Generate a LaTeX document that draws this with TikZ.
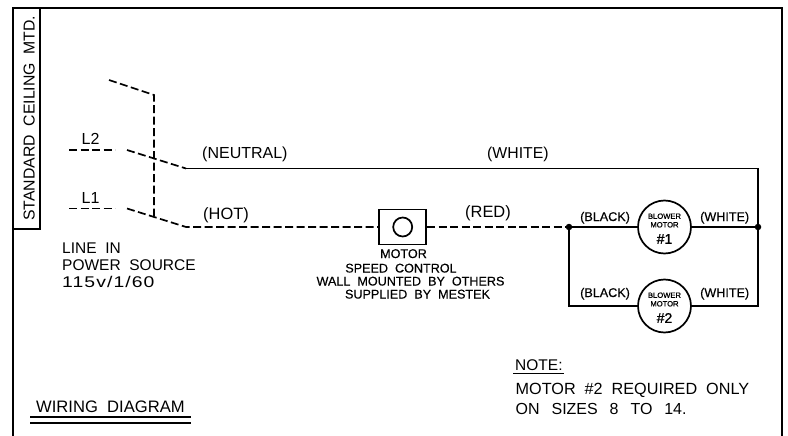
\documentclass[tikz,border=0pt]{standalone}
\usepackage{fontspec}
\setmainfont{Liberation Sans}
\newfontfamily\semib[FakeBold=1.1]{Liberation Sans}
\newfontfamily\semia[FakeBold=0.25]{Liberation Sans}
\newfontfamily\wide[FakeStretch=1.25,LetterSpace=7]{Liberation Sans}
\usetikzlibrary{calc}
\tikzset{
  wire/.style={line width=1.7pt,line join=miter},
  dwire/.style={line width=1.7pt,dash pattern=on 8pt off 3.5pt},
  lab/.style={inner sep=0pt,anchor=base west,font=\fontsize{16}{16}\selectfont},
  blab/.style={inner sep=0pt,anchor=base west,font=\semia\fontsize{12.6}{12.6}\selectfont},
  motor/.style={circle,draw,line width=1.7pt,minimum size=53pt,inner sep=0pt,fill=white},
  mtext/.style={inner sep=0pt,font=\semib\fontsize{7.6}{8.6}\selectfont,align=center},
  mnum/.style={inner sep=0pt,font=\semib\fontsize{14}{14}\selectfont},
  dotn/.style={circle,fill=black,minimum size=6.5pt,inner sep=0pt},
  ctext/.style={inner sep=0pt,font=\semia\fontsize{12.6}{12.6}\selectfont,anchor=base}
}
\begin{document}
\begin{tikzpicture}[x=1pt,y=-1pt]
\useasboundingbox (0,0) rectangle (788,436);
\fill[white] (0,0) rectangle (788,436);
% frame
\coordinate (fbl) at (13,436);
\coordinate (ftl) at (13,8);
\coordinate (ftr) at (782,8);
\coordinate (fbr) at (782,436);
\draw[line width=1.9pt] (fbl) -- (ftl) -- (ftr) -- (fbr);
\coordinate (tb1) at (40,8);
\coordinate (tb2) at (40,229);
\coordinate (tb3) at (13,229);
\draw[line width=1.7pt] (tb1) -- (tb2) -- (tb3);
\node[rotate=90,inner sep=0pt,anchor=base west,font=\fontsize{15.8}{15.8}\selectfont] (side) at (34.5,221) {STANDARD\ \ CEILING\ \ MTD.};
% coordinates
\coordinate (l2a) at (69,150);
\coordinate (l2b) at (115,150);
\coordinate (l2c) at (127,150);
\coordinate (l2d) at (186,168.5);
\coordinate (l1a) at (69,208.5);
\coordinate (l1b) at (115,208.5);
\coordinate (l1c) at (127,208.5);
\coordinate (l1d) at (186,227);
\coordinate (sa) at (109,80);
\coordinate (sb) at (154,95);
\coordinate (sc) at (154,216);
\coordinate (rt) at (758,168.5);
\node[draw,line width=1.7pt,minimum width=47pt,minimum height=35pt,inner sep=0pt] (ctl) at (402.7,227) {};
\node[circle,draw,line width=1.7pt,minimum size=19pt,inner sep=0pt] (knob) at (402.7,227) {};
\node[dotn] (jl) at (569,227) {};
\node[dotn] (jr) at (758,227) {};
\coordinate (bl) at (569,306);
\coordinate (br) at (758,306);
\node[motor] (m1) at (664.5,227) {};
\node[motor] (m2) at (664.5,306) {};
% wires
\draw[dwire] (l2a) -- (l2b);
\draw[dwire] (l1a) -- (l1b);
\draw[dwire] (l2c) -- (l2d);
\draw[dwire] (l1c) -- (l1d) -- (ctl.west);
\draw[dwire] (ctl.east) -- (jl);
\draw[dwire] (sa) -- (sb) -- (sc);
\draw[wire] (l2d) -- (rt) -- (jr);
\draw[wire] (jl) -- (m1);
\draw[wire] (m1) -- (jr);
\draw[wire] (jl) -- (bl) -- (m2);
\draw[wire] (m2) -- (br) -- (jr);
% labels
\node[lab] (tl2) at (81.5,144) {L2};
\node[lab] (tl1) at (81.5,203) {L1};
\node[lab] (tneu) at (202,158) {(NEUTRAL)};
\node[lab,font=\fontsize{16.4}{16.4}\selectfont] (thot) at (203,219) {(HOT)};
\node[lab,font=\fontsize{15.8}{15.8}\selectfont] (twhi) at (487,158) {(WHITE)};
\node[lab,font=\fontsize{16.4}{16.4}\selectfont] (tred) at (465,217) {(RED)};
\node[blab] (tb1l) at (580,221) {(BLACK)};
\node[blab] (tw1) at (700,221) {(WHITE)};
\node[blab] (tb2l) at (580,297) {(BLACK)};
\node[blab] (tw2) at (700,297) {(WHITE)};
\node[mtext] (mt1) at (664.5,220.5) {BLOWER\\MOTOR};
\node[mnum] (mn1) at (664.5,239) {\#1};
\node[mtext] (mt2) at (664.5,299.5) {BLOWER\\MOTOR};
\node[mnum] (mn2) at (664.5,318) {\#2};
\node[lab,font=\fontsize{15.5}{15.5}\selectfont] (tli1) at (62,253) {LINE\ \ IN};
\node[lab,font=\fontsize{15.5}{15.5}\selectfont] (tli2) at (62,270.5) {POWER\ \ SOURCE};
\node[lab,font=\wide\fontsize{15.5}{15.5}\selectfont] (tli3) at (62,287) {115v/1/60};
\node[ctext] (c1) at (403.5,258) {MOTOR};
\node[ctext] (c2) at (401,272.5) {SPEED\ \ CONTROL};
\node[ctext] (c3) at (410.5,285.5) {WALL\ \ MOUNTED\ \ BY\ \ OTHERS};
\node[ctext] (c4) at (417.5,298.5) {SUPPLIED\ \ BY\ \ MESTEK};
\node[lab,font=\fontsize{15.5}{15.5}\selectfont] (tnote) at (515,370) {NOTE:};
\node[lab,font=\fontsize{16.2}{16.2}\selectfont] (tn1) at (515.5,394) {MOTOR\ \ \#2\ \ REQUIRED\ \ ONLY};
\node[lab,font=\fontsize{16}{16}\selectfont] (tn2) at (515.5,414.5) {ON\ \ \hspace{3pt}SIZES\ \ \hspace{3pt}8\ \ \hspace{3pt}TO\ \ \hspace{3pt}14.};
\node[lab,font=\fontsize{16.6}{16.6}\selectfont] (twd) at (36,412) {WIRING\ \ DIAGRAM};
\draw[line width=1.3pt] ($(tnote.base west)+(-2,3.3)$) -- ($(tnote.base east)+(1,3.3)$);
\coordinate (u1a) at (30,417);
\coordinate (u1b) at (191,417);
\coordinate (u2a) at (30,423);
\coordinate (u2b) at (191,423);
\draw[line width=1.5pt] (u1a) -- (u1b);
\draw[line width=1.5pt] (u2a) -- (u2b);
\end{tikzpicture}
\end{document}
